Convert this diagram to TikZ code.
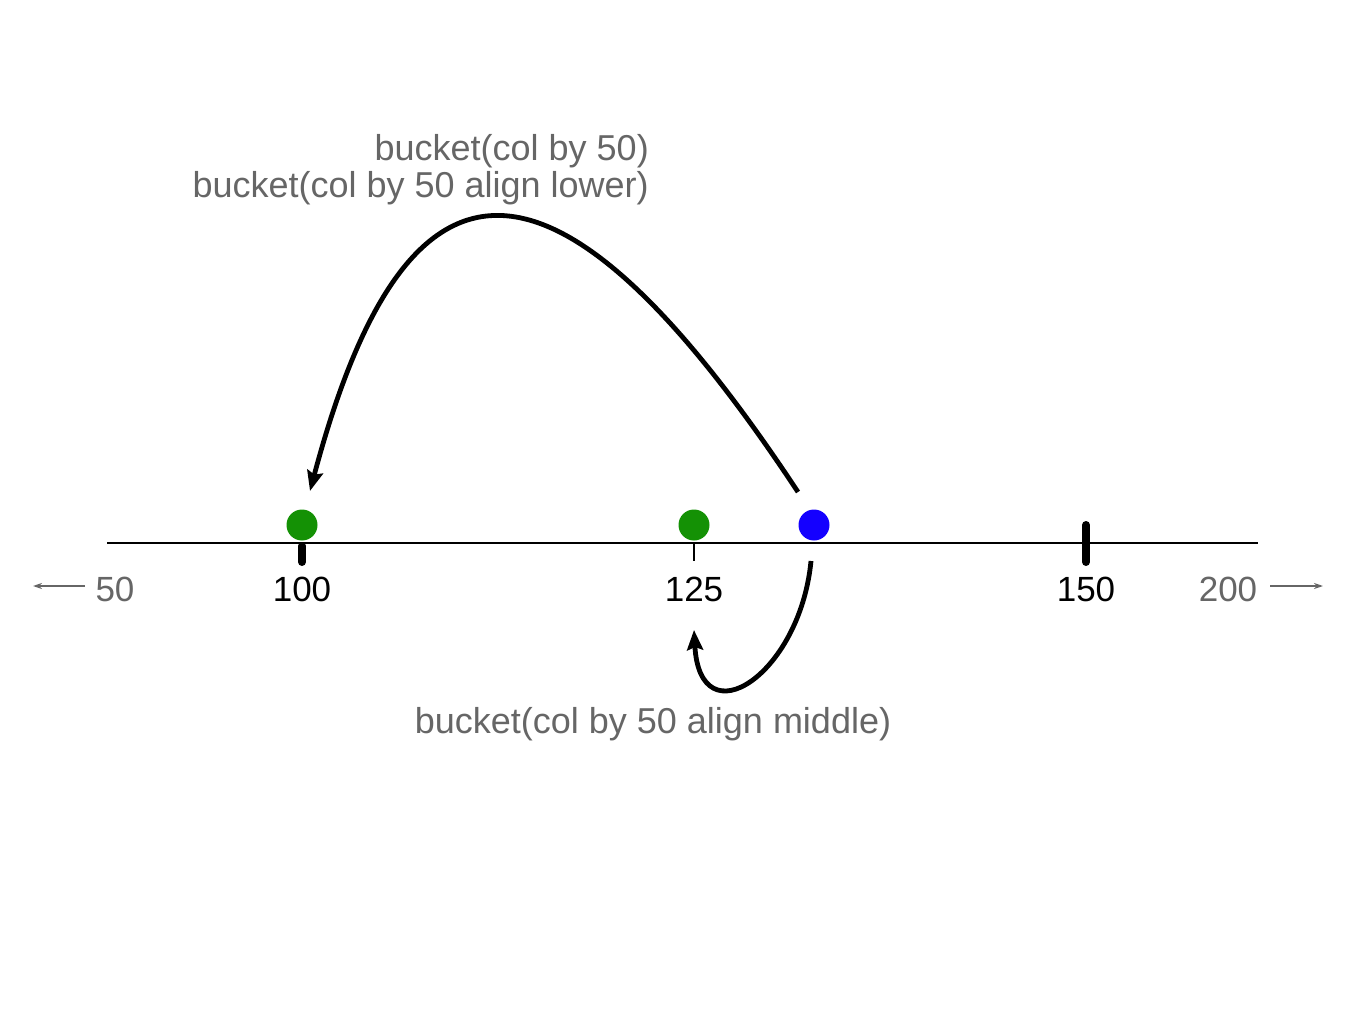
\documentclass[tikz,border=0pt]{standalone}
\usepackage{fontspec}
\setmainfont{Liberation Sans}
\usetikzlibrary{arrows.meta}
\definecolor{dotgreen}{RGB}{20,145,5}
\definecolor{dotblue}{RGB}{20,0,255}
\definecolor{txtgray}{RGB}{102,102,102}
\tikzset{
  dot/.style={circle,fill=#1,inner sep=0pt,minimum size=31pt},
  numlbl/.style={font=\fontsize{35}{40}\selectfont,inner sep=0pt,anchor=center},
  graylbl/.style={font=\fontsize{36}{40}\selectfont,inner sep=0pt,anchor=center,text=txtgray},
  bigtick/.style={line width=8pt,line cap=round},
  curvearrow/.style={line width=4.8pt,-{Stealth[length=20pt,width=16pt,inset=3pt]}},
  sidearrow/.style={draw=txtgray,line width=2pt,-{Stealth[length=9pt,width=6pt]}}
}
\begin{document}
\begin{tikzpicture}[x=1pt,y=-1pt]
\useasboundingbox (0,0) rectangle (1366,1024);
% axis
\coordinate (axL) at (107,543);
\coordinate (axR) at (1258,543);
\draw[line width=2pt] (axL) -- (axR);
% ticks
\coordinate (t100a) at (302,546); \coordinate (t100b) at (302,562);
\draw[bigtick] (t100a) -- (t100b);
\coordinate (t150a) at (1086,525); \coordinate (t150b) at (1086,562);
\draw[bigtick] (t150a) -- (t150b);
\coordinate (t125a) at (694,543); \coordinate (t125b) at (694,561);
\draw[line width=2pt] (t125a) -- (t125b);
% dots
\node[dot=dotgreen] (g100) at (302,525) {};
\node[dot=dotgreen] (g125) at (694,525) {};
\node[dot=dotblue] (b) at (814,525) {};
% labels
\node[numlbl] (l100) at (302,589) {100};
\node[numlbl] (l125) at (694,589) {125};
\node[numlbl] (l150) at (1086,589) {150};
\node[graylbl,font=\fontsize{35}{40}\selectfont] (l50) at (115,589) {50};
\node[graylbl,font=\fontsize{35}{40}\selectfont] (l200) at (1228,589) {200};
\coordinate (la0) at (85,586); \coordinate (la1) at (33,586);
\draw[sidearrow] (la0) -- (la1);
\coordinate (ra0) at (1270,586); \coordinate (ra1) at (1323,586);
\draw[sidearrow] (ra0) -- (ra1);
% texts
\node[graylbl,anchor=east] (tx1) at (649,151) {bucket(col by 50)};
\node[graylbl,anchor=east] (tx2) at (649,188) {bucket(col by 50 align lower)};
\node[graylbl] (tx3) at (653,724) {bucket(col by 50 align middle)};
% curves
\coordinate (c1s) at (798,492);
\coordinate (c1e) at (310,491);
\draw[curvearrow] (c1s) .. controls (556,126) and (407,126) .. (c1e);
\coordinate (c2s) at (811,561);
\coordinate (c2e) at (694,630);
\draw[curvearrow] (c2s) .. controls (800,675) and (700,740) .. (c2e);
\end{tikzpicture}
\end{document}
